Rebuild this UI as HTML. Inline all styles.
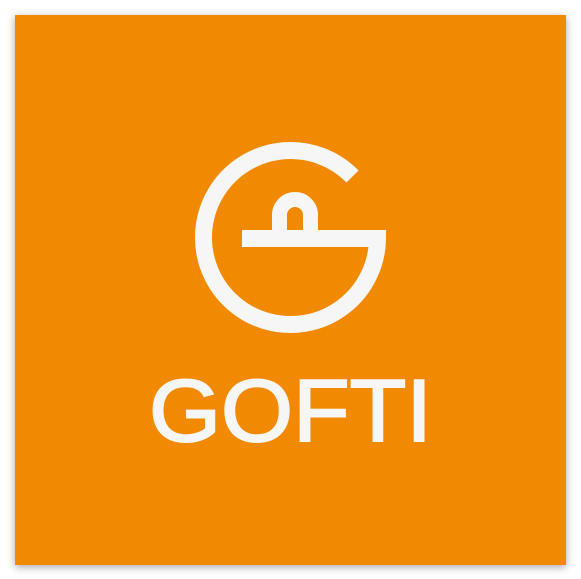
<!DOCTYPE html>
<html><head><meta charset="utf-8"><style>
html,body{margin:0;padding:0;background:#fff;width:581px;height:579px;overflow:hidden}
#card{position:absolute;left:15px;top:15px;width:551px;height:550px;background:#f28a00;box-shadow:0 2px 8px rgba(0,0,0,0.35)}
svg{position:absolute;left:0;top:0}
</style></head><body>
<div id="card"></div>
<svg width="581" height="579">
  <g fill="none" stroke="#f6f6f6" stroke-width="17">
    <path d="M 352.5 176.5 A 87 87 0 1 0 377.5 238.5 L 242 238.5"/>
    <path d="M 279.5 232 L 279.5 215 A 15.5 15.5 0 0 1 310.5 215 L 310.5 232" stroke-width="15"/>
  </g>
  <text x="149" y="441" font-family="Liberation Sans, sans-serif" font-size="88" fill="#f6f6f6" stroke="#f6f6f6" stroke-width="2" textLength="283" lengthAdjust="spacingAndGlyphs">GOFTI</text>
</svg>
</body></html>
